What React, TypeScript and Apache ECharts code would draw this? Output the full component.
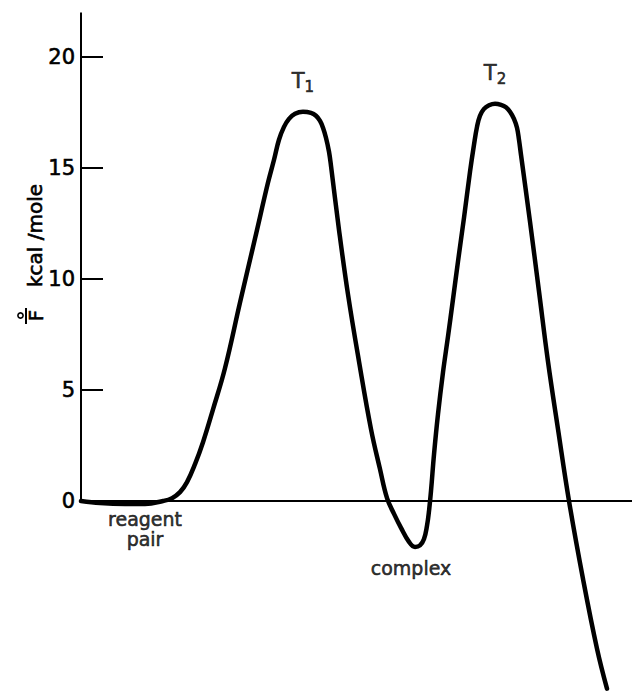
import React, { useEffect, useRef } from "react";
import * as echarts from "echarts";

// Reaction coordinate (arbitrary units, 0–100 across the plot)
const reactionCoordinate = [
  0, 3.45, 7.99, 11.62, 14.88, 16.52, 17.97, 19.24, 20.69, 22.14,
  23.96, 26.13, 28.86, 31.58, 33.94, 35.03, 35.93, 36.84, 37.75, 38.84,
  40.29, 41.74, 42.65, 43.38, 43.92, 44.46, 45.01, 45.37, 46.82, 48.46,
  50.45, 52.63, 54.26, 55.54, 56.81, 58.08, 59.53, 60.62, 61.52, 62.25,
  62.79, 63.16, 63.52, 64.07, 64.79, 65.7, 66.61, 67.51, 68.42, 69.51,
  70.6, 71.32, 71.87, 72.41, 73.14, 74.05, 75.14, 76.23, 77.13, 77.86,
  78.58, 79.13, 79.49, 79.85, 81.49, 83.12, 84.75, 86.57, 88.57, 91.11,
  93.65, 95.46,
];

// Standard free energy, kcal/mole
const freeEnergy = [
  0, -0.09, -0.13, -0.13, 0, 0.13, 0.4, 0.85, 1.66, 2.65,
  4.13, 5.98, 8.94, 11.82, 14.34, 15.37, 16.27, 16.85, 17.21, 17.44,
  17.53, 17.48, 17.35, 17.12, 16.81, 16.36, 15.73, 15.1, 12.22, 9.3,
  6.29, 3.24, 1.44, 0.13, -0.58, -1.21, -1.84, -2.07, -2.0, -1.71,
  -1.12, -0.45, 0.45, 2.11, 3.91, 5.8, 7.42, 9.08, 10.79, 12.76,
  14.83, 16.04, 16.85, 17.35, 17.66, 17.82, 17.89, 17.84, 17.73, 17.53,
  17.21, 16.81, 16.27, 15.6, 12.58, 9.44, 6.29, 3.24, 0, -3.51,
  -6.65, -8.45,
];

const yTickValues = [0, 5, 10, 15, 20];

// Named states along the path, placed at these reaction coordinates
const stateNames = ["reagent\npair", "{t|T}{s|1}", "complex", "{t|T}{s|2}"];
const stateCoords = [11.62, 40.29, 60.62, 75.14];

const FONT = "'DejaVu Sans', sans-serif";
const INK = "#000";
// a thin outline in the ink colour gives the pen-lettered look
const PEN = { textBorderColor: INK, textBorderWidth: 0.6 };

export default function App() {
  const ref = useRef<HTMLDivElement>(null);

  useEffect(() => {
    if (!ref.current) return;
    const chart = echarts.init(ref.current, undefined, { renderer: "svg" });

    const curve = reactionCoordinate.map((x, i) => [x, freeEnergy[i]]);

    const labelLayout: Record<string, any> = {
      "reagent\npair": { position: "bottom", distance: 5, offset: [0, 0], lineHeight: 20 },
      complex: { position: "bottom", distance: 11, offset: [-4, 0], lineHeight: 20 },
      "{t|T}{s|1}": { position: "top", distance: 17, offset: [0, 0] },
      "{t|T}{s|2}": { position: "top", distance: 17, offset: [0, 0] },
    };

    const stateData = stateNames.map((name, k) => {
      const i = reactionCoordinate.indexOf(stateCoords[k]);
      const lay = labelLayout[name];
      return {
        value: [reactionCoordinate[i], freeEnergy[i]],
        label: {
          show: true,
          formatter: name,
          color: INK,
          position: lay.position,
          distance: lay.distance,
          offset: lay.offset,
          lineHeight: lay.lineHeight,
        },
      };
    });

    chart.setOption({
      animation: false,
      backgroundColor: "#fff",
      grid: { left: 81, right: 0, top: 12.5, height: 680.85 },
      xAxis: {
        type: "value",
        min: 0,
        max: 100,
        axisLine: { show: true, onZero: true, lineStyle: { color: INK, width: 2 } },
        axisTick: { show: false },
        axisLabel: { show: false },
        splitLine: { show: false },
      },
      yAxis: {
        type: "value",
        min: -8.6,
        max: 22,
        axisLine: { show: false },
        axisTick: {
          show: true,
          inside: true,
          length: 22,
          customValues: yTickValues,
          lineStyle: { color: INK, width: 2 },
        },
        axisLabel: {
          show: true,
          customValues: yTickValues,
          color: INK,
          fontSize: 21,
          fontFamily: FONT,
          margin: 6,
          ...PEN,
        },
        splitLine: { show: false },
      },
      series: [
        {
          type: "line",
          data: curve,
          symbol: "none",
          smooth: 0.4,
          clip: false,
          silent: true,
          lineStyle: { color: INK, width: 4.5, cap: "round", join: "round" },
          markLine: {
            silent: true,
            symbol: "none",
            label: { show: false },
            lineStyle: { color: INK, width: 2, type: "solid" },
            data: [[{ coord: [0, 0] }, { coord: [0, 22] }]],
          },
        },
        {
          type: "scatter",
          data: stateData,
          symbolSize: 0,
          silent: true,
          label: {
            color: INK,
            fontSize: 19,
            fontFamily: FONT,
            align: "center",
            ...PEN,
            rich: {
              t: { fontSize: 21, fontFamily: FONT, color: INK, verticalAlign: "top", ...PEN },
              s: {
                fontSize: 15,
                fontFamily: FONT,
                color: INK,
                verticalAlign: "top",
                padding: [9, 0, 0, 0],
                ...PEN,
              },
            },
          },
        },
      ],
      graphic: [
        {
          type: "text",
          x: 35,
          y: 235.5,
          rotation: Math.PI / 2,
          silent: true,
          style: {
            text: "kcal /mole",
            fontSize: 20,
            fontFamily: FONT,
            fill: INK,
            stroke: INK,
            lineWidth: 0.6,
            align: "center",
            verticalAlign: "middle",
          },
        },
        {
          type: "text",
          x: 36,
          y: 315.5,
          rotation: Math.PI / 2,
          silent: true,
          style: {
            text: "F",
            fontSize: 19,
            fontFamily: FONT,
            fill: INK,
            stroke: INK,
            lineWidth: 0.6,
            align: "center",
            verticalAlign: "middle",
          },
        },
        {
          type: "line",
          silent: true,
          shape: { x1: 26, y1: 308, x2: 26, y2: 324 },
          style: { stroke: INK, lineWidth: 2 },
        },
        {
          type: "circle",
          silent: true,
          shape: { cx: 20.5, cy: 315.5, r: 2.6 },
          style: { fill: "none", stroke: INK, lineWidth: 1.6 },
        },
      ],
    });

    return () => chart.dispose();
  }, []);

  return (
    <div
      ref={ref}
      style={{ position: "fixed", left: 0, top: 0, width: 632, height: 692, background: "#fff" }}
    />
  );
}
